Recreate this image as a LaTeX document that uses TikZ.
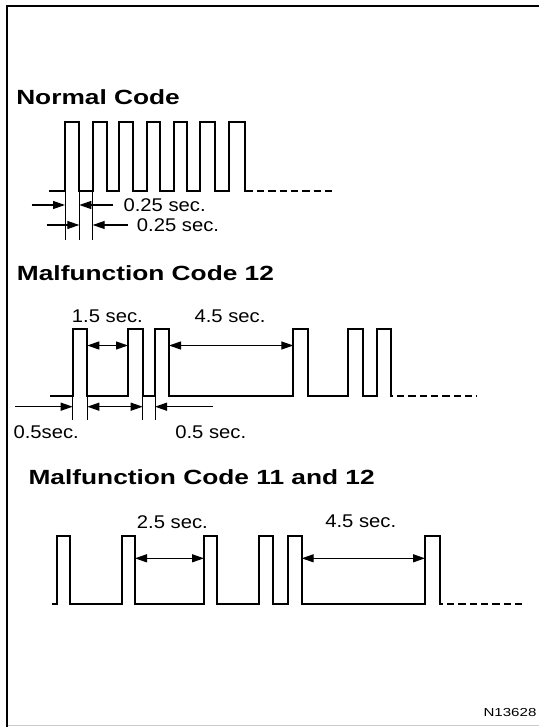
\documentclass[tikz,border=0pt]{standalone}
\usepackage{fontspec}
\usepackage{graphicx}
\setmainfont{Liberation Sans}
\usetikzlibrary{arrows.meta}
\newcommand{\ttlx}[1]{\scalebox{1.28}[1]{#1}}
\newcommand{\labx}[1]{\scalebox{1.1}[1]{#1}}
\newcommand{\refx}[1]{\scalebox{1.3}[1]{#1}}
\tikzset{
  wave/.style={line width=1.5pt, line join=miter},
  waved/.style={line width=1.5pt, dash pattern=on 5.5pt off 3pt},
  dimarrow/.style={line width=0.9pt, -{Triangle[length=9pt,width=6pt]}},
  dimboth/.style={line width=0.9pt, {Triangle[length=9pt,width=6pt]}-{Triangle[length=9pt,width=6pt]}},
  ticks/.style={line width=0.6pt},
  ttl/.style={anchor=base west, inner sep=0pt, font=\fontsize{15.4pt}{16pt}\selectfont\bfseries},
  lbl/.style={anchor=base west, inner sep=0pt, font=\fontsize{13.8pt}{14pt}\selectfont},
  refl/.style={anchor=base west, inner sep=0pt, font=\fontsize{8.7pt}{9pt}\selectfont},
}
\begin{document}
\begin{tikzpicture}[x=0.75pt,y=-0.75pt]
\useasboundingbox (0,0) rectangle (539,727);
% frame
\draw[line width=1.6pt] (7,727) -- (7,6) -- (539,6);
\draw[black!20, line width=0.75pt] (8,725.5) -- (539,725.5);

% ---------------- Normal Code ----------------
\node[ttl] (t1) at (16,104.5) {\ttlx{Normal Code}};
\draw[wave] (49.3,191.5) -| (65,122.5) -| (79.3,191.5) -| (92.7,122.5) -| (106.7,191.5)
  -| (119.3,122.5) -| (133.3,191.5) -| (146.7,122.5) -| (160,191.5)
  -| (174,122.5) -| (187.3,191.5) -| (200,122.5) -| (215,191.5)
  -| (229.3,122.5) -| (245,191.5) -- (253,191.5);
\draw[waved] (257,191.5) -- (331.7,191.5);
\draw[ticks] (65,191.5) -- (65,240);
\draw[ticks] (79.3,191.5) -- (79.3,240);
\draw[ticks] (92.7,191.5) -- (92.7,240);
\coordinate (na1) at (31.7,205);  \coordinate (na2) at (65,205);
\coordinate (na3) at (113,205);   \coordinate (na4) at (79.3,205);
\coordinate (nb1) at (46.7,225);  \coordinate (nb2) at (79.3,225);
\coordinate (nb3) at (128,225);   \coordinate (nb4) at (92.7,225);
\draw[dimarrow] (na1) -- (na2);
\draw[dimarrow] (na3) -- (na4);
\draw[dimarrow] (nb1) -- (nb2);
\draw[dimarrow] (nb3) -- (nb4);
\node[lbl] (l1) at (123.3,211.7) {\labx{0.25 sec.}};
\node[lbl] (l2) at (136.7,231.7) {\labx{0.25 sec.}};

% ---------------- Malfunction Code 12 ----------------
\node[ttl] (t2) at (16.7,280.7) {\ttlx{Malfunction Code 12}};
\draw[wave] (50,396) -| (72.7,329) -| (87.3,396) -| (128,329) -| (142.7,396)
  -| (155,329) -| (169,396) -| (293.3,329) -| (308.3,396)
  -| (348.3,329) -| (363.3,396) -| (376.7,329) -| (390.7,396) -- (393,396);
\draw[waved] (397,396) -- (476.7,396);
\foreach \xx in {72.7,87.3,142.7,155} \draw[ticks] (\xx,396) -- (\xx,420);
\coordinate (ma1) at (87.3,345.5);  \coordinate (ma2) at (128,345.5);
\coordinate (ma3) at (169,345.5);   \coordinate (ma4) at (293.3,345.5);
\coordinate (mb1) at (15,406.7);    \coordinate (mb2) at (72.7,406.7);
\coordinate (mb3) at (87.3,406.7);  \coordinate (mb4) at (142.7,406.7);
\coordinate (mb5) at (213.3,406.7); \coordinate (mb6) at (155,406.7);
\draw[dimboth] (ma1) -- (ma2);
\draw[dimboth] (ma3) -- (ma4);
\draw[dimarrow] (mb1) -- (mb2);
\draw[dimboth] (mb3) -- (mb4);
\draw[dimarrow] (mb5) -- (mb6);
\node[lbl] (l3) at (71.7,322.7) {\labx{1.5 sec.}};
\node[lbl] (l4) at (194.3,322) {\labx{4.5 sec.}};
\node[lbl] (l5) at (13.3,438.3) {\labx{0.5sec.}};
\node[lbl] (l6) at (175,438.3) {\labx{0.5 sec.}};

% ---------------- Malfunction Code 11 and 12 ----------------
\node[ttl] (t3) at (28.3,484) {\ttlx{Malfunction Code 11 and 12}};
\draw[wave] (51.7,603.5) -| (57,536) -| (70,603.5) -| (121.7,536) -| (135,603.5)
  -| (204,536) -| (216.7,603.5) -| (259,536) -| (273,603.5)
  -| (288.3,536) -| (301.7,603.5) -| (425,536) -| (440,603.5) -- (443,603.5);
\draw[waved] (447,603.5) -- (525,603.5);
\coordinate (ka1) at (135,558.3);   \coordinate (ka2) at (204,558.3);
\coordinate (ka3) at (301.7,558.3); \coordinate (ka4) at (425,558.3);
\draw[dimboth] (ka1) -- (ka2);
\draw[dimboth] (ka3) -- (ka4);
\node[lbl] (l7) at (136.7,528) {\labx{2.5 sec.}};
\node[lbl] (l8) at (325,527) {\labx{4.5 sec.}};

% reference number
\node[refl] (ref) at (483.3,716.7) {\refx{N13628}};
\end{tikzpicture}
\end{document}
